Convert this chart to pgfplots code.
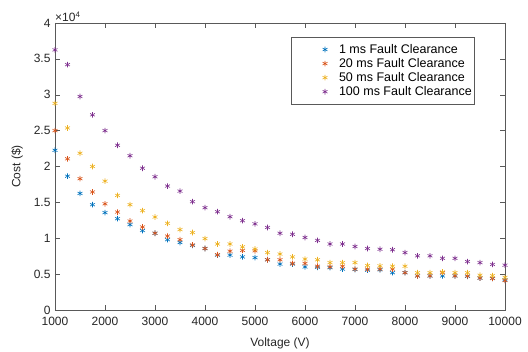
\documentclass[border=0pt]{standalone}
\usepackage{fontspec}
\setmainfont{Liberation Sans}
\usepackage{pgfplots}
\pgfplotsset{compat=1.18}
\usepackage{pgfplotstable}
\definecolor{mblue}{rgb}{0,0.447,0.741}
\definecolor{morange}{rgb}{0.85,0.325,0.098}
\definecolor{myellow}{rgb}{0.929,0.694,0.125}
\definecolor{mpurple}{rgb}{0.494,0.184,0.556}
\pgfplotstableread{
V c1 c20 c50 c100
1000 22260 25000 28800 36250
1250 18650 21070 25370 34200
1500 16250 18300 21850 29760
1750 14680 16450 20000 27200
2000 13570 14800 17960 25000
2250 12730 13650 15970 22960
2500 11900 12400 14680 21500
2750 11070 11570 13850 19760
3000 10700 10700 12960 18570
3250 9800 10300 12080 17270
3500 9400 9800 11200 16570
3750 9000 9070 10800 15100
4000 8570 8570 9950 14260
4250 7650 7700 9200 13700
4500 7650 8200 9200 13000
4750 7400 8300 8800 12450
5000 7300 8250 8500 12000
5250 7000 7000 8000 11500
5500 6400 7000 7800 10700
5750 6400 6500 7400 10550
6000 6000 6500 7100 10100
6250 5950 6100 7000 9700
6500 5900 6000 6600 9200
6750 5700 6100 6600 9200
7000 5650 5700 6600 8850
7250 5550 5700 6200 8570
7500 5600 5700 6150 8470
7750 5200 5700 6100 8400
8000 5200 5200 6100 8000
8250 4750 4750 5200 7550
8500 4750 4750 5200 7550
8750 4750 5200 5300 7200
9000 4750 4750 5200 7200
9250 4700 4750 5200 6750
9500 4450 4450 4850 6600
9750 4400 4400 4800 6350
10000 4200 4100 4550 6250
}\datatable
\begin{document}
\begin{tikzpicture}[x=1pt,y=1pt]
\begin{axis}[
  name=ax,
  scale only axis,
  width=450pt, height=287pt,
  xmin=1000, xmax=10000, ymin=0, ymax=40000,
  xtick={1000,2000,...,10000},
  ytick={0,5000,...,40000},
  scaled x ticks=false,
  scaled y ticks=base 10:-4,
  ytick scale label code/.code={\fontsize{12}{13}\selectfont\color{black!85}×10\textsuperscript{#1}},
  every y tick scale label/.style={at={(rel axis cs:0,1)},anchor=south west,inner sep=1pt,yshift=0pt},
  /pgf/number format/assume math mode=true,
  xticklabel style={/pgf/number format/set thousands separator={},yshift=-3.5pt},
  yticklabel style={xshift=-1pt},
  tick label style={font=\fontsize{12}{14}\selectfont, text=black!85},
  label style={font=\fontsize{12}{14}\selectfont, text=black!85},
  xlabel={Voltage (V)},
  ylabel={Cost (\$)},
  xlabel style={yshift=-5pt},
  ylabel style={yshift=4pt},
  tick align=inside,
  major tick length=5pt,
  axis line style={black!65},
  every tick/.style={black!65},
  legend style={at={(rel axis cs:0.931,0.951)},anchor=north east,draw=black!65,font=\fontsize{12.5}{13}\selectfont,inner xsep=0pt,inner ysep=5pt,row sep=-0.5pt},
  legend cell align=left,
  legend image code/.code={\path[draw=none,fill=none] (0pt,0pt) -- (46pt,0pt); \draw[#1,only marks] plot coordinates {(34pt,0pt)};},
  every axis plot/.append style={only marks, mark=asterisk, mark size=2.8pt, line width=0.6pt},
]
\addplot[mblue] table[x=V,y=c1]{\datatable};
\addlegendentry{1 ms Fault Clearance}
\addplot[morange] table[x=V,y=c20]{\datatable};
\addlegendentry{20 ms Fault Clearance}
\addplot[myellow] table[x=V,y=c50]{\datatable};
\addlegendentry{50 ms Fault Clearance}
\addplot[mpurple] table[x=V,y=c100]{\datatable};
\addlegendentry{100 ms Fault Clearance}
\end{axis}
\path ([xshift=-55pt,yshift=-42pt]ax.south west) rectangle ([xshift=23pt,yshift=23pt]ax.north east);
\end{tikzpicture}
\end{document}
